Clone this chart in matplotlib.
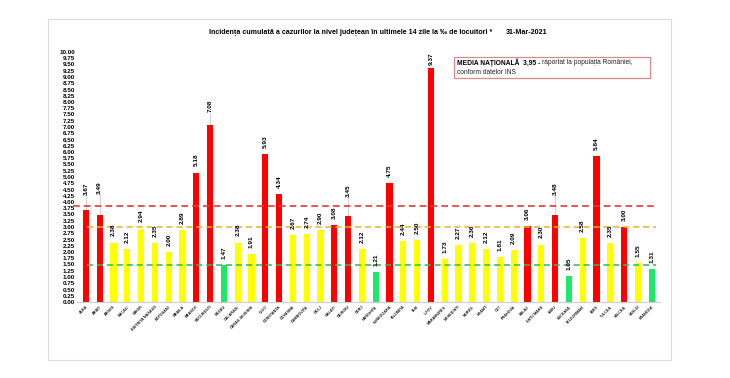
import matplotlib
matplotlib.use("Agg")
import matplotlib.pyplot as plt
from matplotlib.patches import Rectangle

plt.rcParams["font.family"] = ["Liberation Sans", "DejaVu Sans"]

COUNTIES = [
    "ALBA", "ARAD", "ARGES", "BACAU", "BIHOR", "BISTRITA NASAUD", "BOTOSANI",
    "BRAILA", "BRASOV", "BUCURESTI", "BUZAU", "CALARASI", "CARAS-SEVERIN",
    "CLUJ", "CONSTANTA", "COVASNA", "DAMBOVITA", "DOLJ", "GALATI", "GIURGIU",
    "GORJ", "HARGHITA", "HUNEDOARA", "IALOMITA", "IASI", "ILFOV", "MARAMURES",
    "MEHEDINTI", "MURES", "NEAMT", "OLT", "PRAHOVA", "SALAJ", "SATU MARE",
    "SIBIU", "SUCEAVA", "TELEORMAN", "TIMIS", "TULCEA", "VALCEA", "VASLUI",
    "VRANCEA",
]
INCIDENCE = [
    3.67, 3.49, 2.38, 2.12, 2.94, 2.35, 2.00, 2.89, 5.18, 7.08, 1.47, 2.38,
    1.91, 5.93, 4.34, 2.67, 2.74, 2.90, 3.08, 3.45, 2.12, 1.21, 4.75, 2.44,
    2.50, 9.37, 1.73, 2.27, 2.36, 2.12, 1.81, 2.09, 3.06, 2.30, 3.48, 1.05,
    2.58, 5.84, 2.35, 3.00, 1.55, 1.31,
]
NATIONAL_LINE = 3.85
HIGH = 3.0
LOW = 1.5

TITLE = "Incidența cumulată a cazurilor la nivel județean în ultimele 14 zile la ‰ de locuitori *"
DATE = "31-Mar-2021"

# labels pushed up with a thin leader line (extra gap, data units)
LEADERS = {"ALBA": 0.6, "ARAD": 0.85, "BUCURESTI": 0.5, "GIURGIU": 0.75, "SIBIU": 0.8}

RED = "#ff0000"
YELLOW = "#ffff00"
GREEN = "#1ee86a"


def bar_color(v):
    if v >= HIGH:
        return RED
    if v >= LOW:
        return YELLOW
    return GREEN


W, H = 730, 378
fig = plt.figure(figsize=(W / 100, H / 100), dpi=100)
fig.patch.set_facecolor("white")

# outer light frame
fig.add_artist(Rectangle((48 / W, 1 - 360 / H), (671 - 48) / W, (360 - 19) / H,
                         transform=fig.transFigure, fill=False,
                         edgecolor="#dcdcdc", lw=0.8))

ax = fig.add_axes([77 / W, 1 - 302 / H, (660 - 77) / W, (302 - 52) / H])
x = list(range(len(COUNTIES)))
ax.bar(x, INCIDENCE, width=0.45, color=[bar_color(v) for v in INCIDENCE], zorder=2)

ax.set_xlim(-0.65, 41.6)
ax.set_ylim(0, 10)
yt = [i * 0.25 for i in range(41)]
ax.set_yticks(yt)
ax.set_yticklabels([f"{t:.2f}" for t in yt], fontsize=4.5, fontweight="bold")
ax.tick_params(axis="y", length=0, pad=1.5)
ax.set_xticks(x)
ax.set_xticklabels(COUNTIES, rotation=45, ha="right", va="top",
                   rotation_mode="anchor", fontsize=2.7, fontweight="bold",
                   color="#222222")
ax.tick_params(axis="x", length=0, pad=2)
for s in ["top", "right", "left"]:
    ax.spines[s].set_visible(False)
ax.spines["bottom"].set_color("#d0d0d0")
ax.spines["bottom"].set_linewidth(0.8)

# reference lines
ax.plot([-0.95, 41.3], [NATIONAL_LINE] * 2, color="#e03a3a", lw=1.2,
        ls=(0, (4, 2.5)), clip_on=False, zorder=3)
ax.plot([0.05, 41.3], [HIGH] * 2, color="#e6b42a", lw=1.1,
        ls=(0, (4, 2.5)), zorder=3)
ax.plot([0.05, 41.3], [LOW] * 2, color="#35b45e", lw=1.1,
        ls=(0, (4, 2.5)), zorder=3)

# value labels
for xi, name, v in zip(x, COUNTIES, INCIDENCE):
    gap = 0.24
    if name in LEADERS:
        gap = LEADERS[name]
        ax.plot([xi, xi], [v, v + gap], color="#bdbdbd", lw=0.5, zorder=1)
    if name == "ILFOV":
        gap = 0.1
    ax.text(xi, v + gap, f"{v:.2f}", rotation=90, ha="center", va="bottom",
            fontsize=4.6, fontweight="bold", color="black", zorder=4)

# title
fig.text(209 / W, 1 - 32 / H, TITLE, ha="left", va="center",
         fontsize=5.15, fontweight="bold")
fig.text(547 / W, 1 - 32 / H, DATE, ha="right", va="center",
         fontsize=5.15, fontweight="bold")

# national average box
fig.add_artist(Rectangle((454 / W, 1 - 78 / H), (650 - 454) / W, (78 - 57) / H,
                         transform=fig.transFigure, fill=False,
                         edgecolor="#d98a8f", lw=0.9))
t1 = fig.text(457 / W, 1 - 62.5 / H, "MEDIA NAȚIONALĂ  3,95 - ", ha="left",
              va="center", fontsize=4.8, fontweight="bold")
fig.canvas.draw()
bb = t1.get_window_extent()
fig.text(bb.x1 / W, 1 - 62.5 / H, "raportat la populația României,", ha="left",
         va="center", fontsize=4.8, color="#222222")
fig.text(457 / W, 1 - 72.5 / H, "conform datelor INS", ha="left", va="center",
         fontsize=4.8, color="#222222")

fig.savefig("out.png", dpi=100)
